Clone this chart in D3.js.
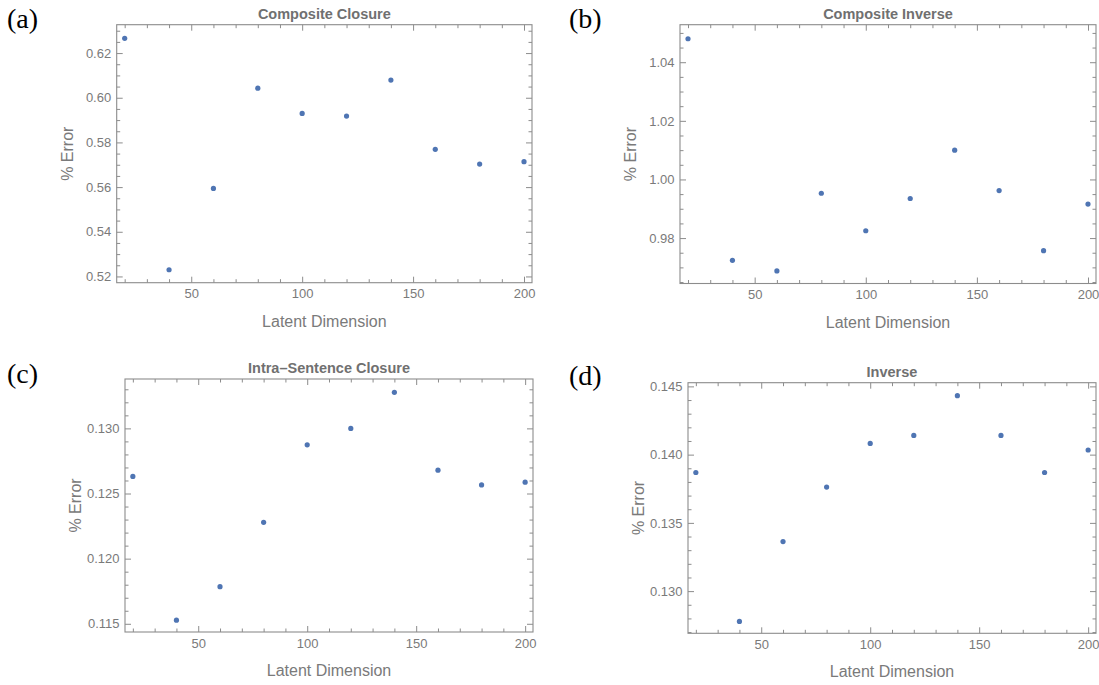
<!DOCTYPE html>
<html><head><meta charset="utf-8">
<script src="https://cdn.jsdelivr.net/npm/d3@7"></script>
<style>body{margin:0;background:#fff}</style>
</head><body><svg id="chart" width="1099" height="685"></svg>
<script>
// ---- data ----
const latentDims = [20, 40, 60, 80, 100, 120, 140, 160, 180, 200];
const compositeClosure = [0.6266, 0.5230, 0.5594, 0.6043, 0.5930, 0.5918, 0.6079, 0.5769, 0.5703, 0.5714];
const compositeInverse = [1.0480, 0.9724, 0.9688, 0.9953, 0.9825, 0.9935, 1.0100, 0.9962, 0.9757, 0.9916];
const intraSentenceClosure = [0.12631, 0.11528, 0.11785, 0.12279, 0.12874, 0.13000, 0.13277, 0.12679, 0.12566, 0.12587];
const inverseErr = [0.13869, 0.12778, 0.13363, 0.13762, 0.14082, 0.14141, 0.14432, 0.14141, 0.13869, 0.14034];

const titles = ["Composite Closure", "Composite Inverse", "Intra\u2013Sentence Closure", "Inverse"];
const panelLabels = ["(a)", "(b)", "(c)", "(d)"];
const xLabel = "Latent Dimension";
const yLabel = "% Error";

const xTickValues = [50, 100, 150, 200];
const yTicksA = [0.52, 0.54, 0.56, 0.58, 0.60, 0.62];
const yTicksB = [0.98, 1.00, 1.02, 1.04];
const yTicksC = [0.115, 0.120, 0.125, 0.130];
const yTicksD = [0.130, 0.135, 0.140, 0.145];

const xRange = [16.4, 203.6];
const yRangeA = [0.5172, 0.6327];
const yRangeB = [0.9645, 1.0528];
const yRangeC = [0.11437, 0.13379];
const yRangeD = [0.12691, 0.14527];

// ---- layout (pixel frames) ----
const frames = [
  {l: 116.7, r: 532, t: 24.7, b: 282.7},
  {l: 680, r: 1096, t: 24.7, b: 283.5},
  {l: 125, r: 533, t: 379, b: 632},
  {l: 688, r: 1096, t: 382.7, b: 633.3}
];
const labelPos = [{x: 7, y: 28}, {x: 569, y: 28}, {x: 7, y: 383}, {x: 569, y: 385}];

const panels = [
  {values: compositeClosure, yTicks: yTicksA, yDom: yRangeA, minorStep: 0.005, fmt: ".2f"},
  {values: compositeInverse, yTicks: yTicksB, yDom: yRangeB, minorStep: 0.005, fmt: ".2f"},
  {values: intraSentenceClosure, yTicks: yTicksC, yDom: yRangeC, minorStep: 0.001, fmt: ".3f"},
  {values: inverseErr, yTicks: yTicksD, yDom: yRangeD, minorStep: 0.001, fmt: ".3f"}
];

const frameColor = "#8c8c8c";
const labelColor = "#7a7a7a";
const titleColor = "#707070";
const pointColor = "#4f75b3";
const sans = "'Liberation Sans', Arial, sans-serif";

const svg = d3.select("#chart");
svg.append("rect").attr("width", 1099).attr("height", 685).attr("fill", "#fff");

panels.forEach((p, i) => {
  const f = frames[i];
  const x = d3.scaleLinear().domain(xRange).range([f.l, f.r]);
  const y = d3.scaleLinear().domain(p.yDom).range([f.b, f.t]);
  const g = svg.append("g");

  const xMinor = d3.range(20, 201, 10).filter(v => !xTickValues.includes(v));
  const yMinor = d3.range(Math.ceil(p.yDom[0] / p.minorStep), Math.floor(p.yDom[1] / p.minorStep) + 1)
      .map(k => +(k * p.minorStep).toFixed(6))
      .filter(v => !p.yTicks.some(t => Math.abs(t - v) < 1e-9));

  const style = sel => {
    sel.select(".domain").remove();
    sel.selectAll("line").attr("stroke", frameColor).attr("stroke-width", 1);
    sel.selectAll("text").attr("fill", labelColor).style("font-family", sans).style("font-size", "13px");
  };

  // major ticks with labels
  g.append("g").attr("transform", `translate(0,${f.b})`)
    .call(d3.axisBottom(x).tickValues(xTickValues).tickSize(-6).tickPadding(6.5).tickFormat(d3.format("d"))).call(style);
  g.append("g").attr("transform", `translate(${f.l},0)`)
    .call(d3.axisLeft(y).tickValues(p.yTicks).tickSize(-6).tickPadding(5.5).tickFormat(d3.format(p.fmt))).call(style);
  // mirrored major ticks
  g.append("g").attr("transform", `translate(0,${f.t})`)
    .call(d3.axisTop(x).tickValues(xTickValues).tickSize(-6).tickFormat("")).call(style);
  g.append("g").attr("transform", `translate(${f.r},0)`)
    .call(d3.axisRight(y).tickValues(p.yTicks).tickSize(-6).tickFormat("")).call(style);
  // minor ticks
  g.append("g").attr("transform", `translate(0,${f.b})`)
    .call(d3.axisBottom(x).tickValues(xMinor).tickSize(-3.5).tickFormat("")).call(style);
  g.append("g").attr("transform", `translate(0,${f.t})`)
    .call(d3.axisTop(x).tickValues(xMinor).tickSize(-3.5).tickFormat("")).call(style);
  g.append("g").attr("transform", `translate(${f.l},0)`)
    .call(d3.axisLeft(y).tickValues(yMinor).tickSize(-3.5).tickFormat("")).call(style);
  g.append("g").attr("transform", `translate(${f.r},0)`)
    .call(d3.axisRight(y).tickValues(yMinor).tickSize(-3.5).tickFormat("")).call(style);

  // frame
  g.append("rect").attr("x", f.l).attr("y", f.t).attr("width", f.r - f.l).attr("height", f.b - f.t)
    .attr("fill", "none").attr("stroke", frameColor).attr("stroke-width", 1.1);

  // points
  g.selectAll("circle.pt").data(latentDims.map((d, k) => ({x: d, y: p.values[k]})))
    .enter().append("circle").attr("class", "pt")
    .attr("cx", d => x(d.x)).attr("cy", d => y(d.y)).attr("r", 2.6).attr("fill", pointColor);

  // title
  g.append("text").attr("x", (f.l + f.r) / 2).attr("y", f.t - 6)
    .attr("text-anchor", "middle").attr("fill", titleColor)
    .style("font-family", sans).style("font-size", "14.5px").style("font-weight", "bold")
    .text(titles[i]);
  // x label
  g.append("text").attr("x", (f.l + f.r) / 2).attr("y", f.b + 44)
    .attr("text-anchor", "middle").attr("fill", labelColor)
    .style("font-family", sans).style("font-size", "16px").text(xLabel);
  // y label
  g.append("text").attr("transform", `translate(${f.l - 44},${(f.t + f.b) / 2}) rotate(-90)`)
    .attr("text-anchor", "middle").attr("fill", labelColor)
    .style("font-family", sans).style("font-size", "16px").text(yLabel);
  // panel label
  svg.append("text").attr("x", labelPos[i].x).attr("y", labelPos[i].y)
    .attr("fill", "#000").style("font-family", "'Liberation Serif', 'Times New Roman', serif")
    .style("font-size", "28px").text(panelLabels[i]);
});
</script>
</body></html>
